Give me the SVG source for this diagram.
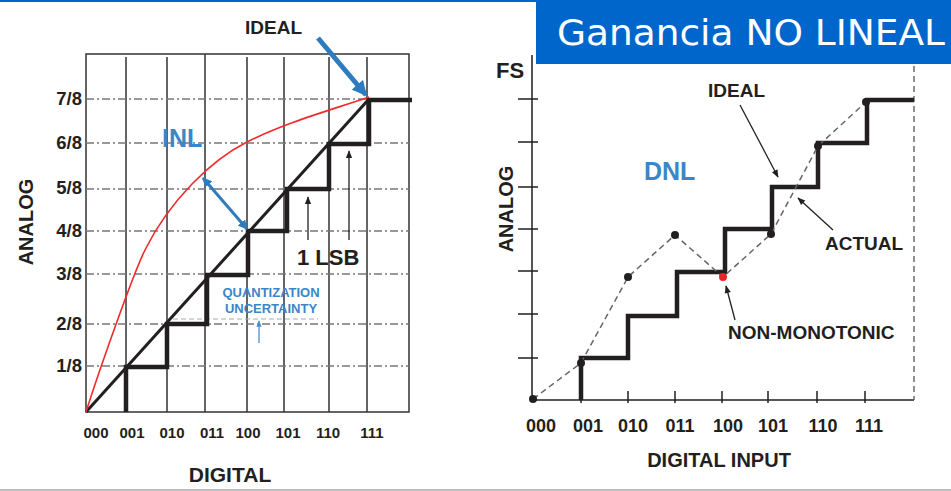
<svg xmlns="http://www.w3.org/2000/svg" width="951" height="491" viewBox="0 0 951 491">
<defs>
<style>
.t{font-family:"Liberation Sans",Arial,sans-serif;font-weight:bold;fill:#231f20}
.b{font-family:"Liberation Sans",Arial,sans-serif;font-weight:bold;fill:#3a86c8}
.grid{stroke:#333;stroke-width:1.5;fill:none}
.dd{stroke:#777;stroke-width:1.3;stroke-dasharray:8 3 2 3;fill:none}
.step{stroke:#231f20;stroke-width:4.5;fill:none;stroke-linejoin:miter}
.thin{stroke:#231f20;stroke-width:1.3;fill:none}
.dash{stroke:#666;stroke-width:1.5;stroke-dasharray:6 4;fill:none}
</style>
<marker id="bh" viewBox="0 0 10 10" refX="9" refY="5" markerWidth="3" markerHeight="3" orient="auto-start-reverse" markerUnits="strokeWidth"><path d="M0,0 L10,5 L0,10 z" fill="#2e7bbd"/></marker>
<marker id="bh2" viewBox="0 0 10 10" refX="9" refY="5" markerWidth="3.2" markerHeight="3.2" orient="auto-start-reverse" markerUnits="strokeWidth"><path d="M0,0 L10,5 L0,10 z" fill="#2e7bbd"/></marker>
<marker id="kh" viewBox="0 0 10 10" refX="9" refY="5" markerWidth="7" markerHeight="6" orient="auto" markerUnits="strokeWidth"><path d="M0,1 L10,5 L0,9 z" fill="#231f20"/></marker>
<marker id="sbh" viewBox="0 0 10 10" refX="9" refY="5" markerWidth="5" markerHeight="5" orient="auto" markerUnits="strokeWidth"><path d="M0,1 L10,5 L0,9 z" fill="#4a90cc"/></marker>
</defs>
<rect width="951" height="491" fill="#fff"/>
<rect x="0" y="0" width="951" height="2" fill="#0066cc"/>
<line x1="0" y1="490" x2="951" y2="490" stroke="#bdbdbd" stroke-width="2"/>

<g id="title">
<rect x="536" y="0" width="415" height="64" fill="#0066cc"/>
<text x="557" y="45" font-family="DejaVu Sans,Verdana,sans-serif" font-size="35" fill="#fff" textLength="388" lengthAdjust="spacingAndGlyphs">Ganancia NO LINEAL</text>
</g>

<!-- LEFT CHART -->
<g id="left-chart">
<g id="left-grid">
<rect x="86" y="54" width="323" height="358" class="grid"/>
<path class="grid" d="M126,57V412 M167,57V412 M205,54V412 M247,57V412 M284,57V412 M329,57V412 M367,57V412"/>
<path class="dd" d="M86,99H409 M86,143H409 M86,189H409 M86,231H409 M86,274H409 M86,324H409 M86,366H409"/>
<line x1="173" y1="319" x2="318" y2="319" stroke="#aaa" stroke-width="1" stroke-dasharray="5 3"/>
</g>
<g id="left-ylabels" font-size="18.5">
<text class="t" x="82" y="105" text-anchor="end">7/8</text>
<text class="t" x="82" y="149" text-anchor="end">6/8</text>
<text class="t" x="82" y="194" text-anchor="end">5/8</text>
<text class="t" x="82" y="237" text-anchor="end">4/8</text>
<text class="t" x="82" y="280" text-anchor="end">3/8</text>
<text class="t" x="82" y="330" text-anchor="end">2/8</text>
<text class="t" x="82" y="372" text-anchor="end">1/8</text>
</g>
<text class="t" font-size="20" transform="translate(33,222) rotate(-90)" text-anchor="middle">ANALOG</text>
<g id="left-xlabels" font-size="15" text-anchor="middle">
<text class="t" x="96" y="438">000</text>
<text class="t" x="132" y="438">001</text>
<text class="t" x="172" y="438">010</text>
<text class="t" x="212" y="438">011</text>
<text class="t" x="248" y="438">100</text>
<text class="t" x="288" y="438">101</text>
<text class="t" x="328" y="438">110</text>
<text class="t" x="372" y="438">111</text>
</g>
<text class="t" x="230" y="482" font-size="21" text-anchor="middle">DIGITAL</text>
<g id="left-ideal-line">
<line x1="86" y1="412" x2="369" y2="99" stroke="#231f20" stroke-width="3"/>
</g>
<g id="left-steps">
<path class="step" d="M126,412V367H167V324H207V275H248V231H287V189H329V144H369V100H412"/>
</g>
<g id="inl-curve">
<path d="M86,412 C98,374 133,274 145,250 C170,200 212,159.5 247,142 C287,122 328,111 369,97" fill="none" stroke="#ee2a2a" stroke-width="1.6"/>
</g>
<g id="left-annotations">
<text class="t" x="245" y="34" font-size="19">IDEAL</text>
<line x1="318" y1="38" x2="366" y2="95" stroke="#2e7bbd" stroke-width="5" marker-end="url(#bh)"/>
<text class="b" x="162" y="147" font-size="25">INL</text>
<line x1="203" y1="178" x2="247" y2="229" stroke="#2e7bbd" stroke-width="3" marker-start="url(#bh2)" marker-end="url(#bh2)"/>
<text class="t" x="297" y="265" font-size="22">1 LSB</text>
<line x1="308" y1="240" x2="308" y2="197" class="thin" marker-end="url(#kh)"/>
<line x1="349" y1="240" x2="349" y2="151" class="thin" marker-end="url(#kh)"/>
<text class="b" x="271" y="297" font-size="13" text-anchor="middle">QUANTIZATION</text>
<text class="b" x="271" y="313" font-size="13" text-anchor="middle">UNCERTAINTY</text>
<line x1="259" y1="343" x2="259" y2="321" stroke="#4a90cc" stroke-width="1.3" marker-end="url(#sbh)"/>
</g>
</g>

<!-- RIGHT CHART -->
<g id="right-chart">
<g id="right-axes">
<path d="M532,55V400H914" stroke="#231f20" stroke-width="1.5" fill="none"/>
<line x1="914" y1="66" x2="914" y2="400" stroke="#555" stroke-width="1.3" stroke-dasharray="6 4"/>
<path d="M518,99H538 M518,142H538 M518,187H538 M518,229H538 M518,271H538 M518,314H538 M518,358H538" stroke="#231f20" stroke-width="1.5"/>
<path d="M581,391V403 M628,391V403 M675,391V403 M722,391V403 M768,391V403 M817,391V403 M865,391V403" stroke="#231f20" stroke-width="1.5"/>
</g>
<text class="t" x="496" y="78" font-size="22">FS</text>
<text class="t" font-size="20" transform="translate(513,209) rotate(-90)" text-anchor="middle">ANALOG</text>
<g id="right-xlabels" font-size="18" text-anchor="middle">
<text class="t" x="541" y="432">000</text>
<text class="t" x="588" y="432">001</text>
<text class="t" x="633" y="432">010</text>
<text class="t" x="680" y="432">011</text>
<text class="t" x="728" y="432">100</text>
<text class="t" x="773" y="432">101</text>
<text class="t" x="823" y="432">110</text>
<text class="t" x="869" y="432">111</text>
</g>
<text class="t" x="719" y="467" font-size="20" text-anchor="middle">DIGITAL INPUT</text>
<g id="right-steps">
<path class="step" d="M581,400V358H628V316H677V272H725V229H772V187H818V143H867V100H914"/>
</g>
<g id="actual-curve">
<polyline class="dash" points="533,399 581,363 628,277 675,235 723,277 771,234 818,146 866,102"/>
<g fill="#231f20">
<circle cx="533" cy="399" r="4"/>
<circle cx="581" cy="363" r="4"/>
<circle cx="628" cy="277" r="4"/>
<circle cx="675" cy="235" r="4"/>
<circle cx="771" cy="234" r="4"/>
<circle cx="818" cy="146" r="4"/>
<circle cx="866" cy="102" r="4"/>
</g>
<circle cx="723" cy="277" r="4" fill="#e8262a"/>
</g>
<g id="right-annotations">
<text class="t" x="708" y="97" font-size="19">IDEAL</text>
<line x1="740" y1="105" x2="778" y2="177" class="thin" marker-end="url(#kh)"/>
<text class="b" x="644" y="180" font-size="25">DNL</text>
<text class="t" x="825" y="250" font-size="19">ACTUAL</text>
<line x1="833" y1="230" x2="798" y2="198" class="thin" marker-end="url(#kh)"/>
<text class="t" x="728" y="339" font-size="19">NON-MONOTONIC</text>
<line x1="735" y1="320" x2="726" y2="286" class="thin" marker-end="url(#kh)"/>
</g>
</g>
</svg>
